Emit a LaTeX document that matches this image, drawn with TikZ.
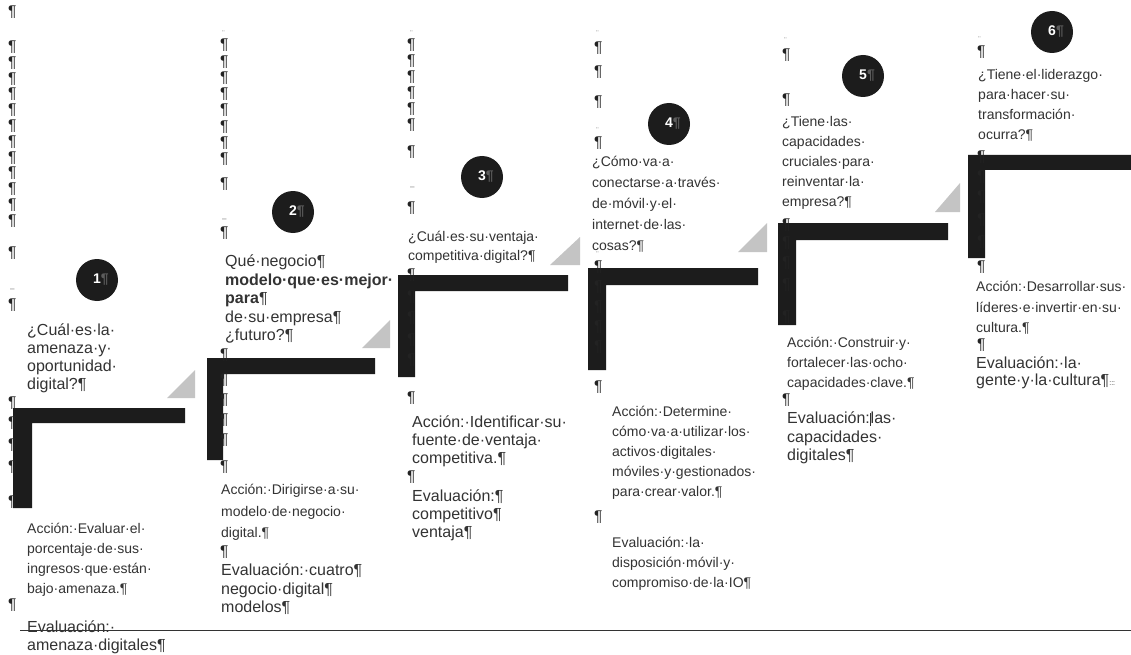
\documentclass[tikz,border=0pt]{standalone}
\usepackage{fontspec}
\setmainfont{Liberation Sans}
\definecolor{ink}{HTML}{333333}
\definecolor{pilcol}{HTML}{222222}
\definecolor{barcol}{HTML}{1C1C1C}
\definecolor{tricol}{HTML}{C4C4C4}
\begin{document}
\begin{tikzpicture}[x=1pt,y=-1pt,
  txt/.style={anchor=north west, inner sep=0pt, align=left, text=ink},
  small/.style={txt, font=\fontsize{14}{#1}\selectfont},
  small/.default=20,
  large/.style={txt, font=\fontsize{16}{#1}\selectfont},
  large/.default=18,
  pil/.style={anchor=west, inner sep=0pt, text=pilcol, font=\fontsize{15.5}{15.5}\selectfont},
  fmark/.style={anchor=west, inner sep=0pt, text=ink!70, font=\fontsize{8}{8}\selectfont},
  badge/.style={circle, fill=barcol, minimum size=42pt, inner sep=0pt},
  badgetxt/.style={anchor=west, inner sep=0pt, font=\fontsize{14}{14}\selectfont\bfseries, text=white}]

% page
\fill[white] (0,0) rectangle (1131,655);
\useasboundingbox (0,0) rectangle (1131,655);

% L-shaped steps
\foreach \xa/\ya/\xb/\xc/\yb/\yc in {
  13/408/185/32/423/508,
  207/358/375/223/374/460,
  398/275/568/415/291/377,
  588/268/758/606/285/370,
  778/223/948/796/240/325,
  968/155/1131/985/170/258}
  \fill[barcol] (\xa,\ya) -- (\xb,\ya) -- (\xb,\yb) -- (\xc,\yb) -- (\xc,\yc) -- (\xa,\yc) -- cycle;

% grey corner triangles
\foreach \xa/\ya/\xb/\yb in {
  167/398/195/370,
  362/348/390/320,
  550/265/580/237,
  738/252/767/223,
  935/212/960/183}
  \fill[tricol] (\xa,\ya) -- (\xb,\ya) -- (\xb,\yb) -- cycle;

% numbered badges
\foreach \cx/\cy/\n in {97/280/1, 293/212/2, 482/177/3, 669/124/4, 863/76/5, 1052/32/6} {
  \node[badge] (b\n) at (\cx,\cy) {};
  \node[badgetxt] (bn\n) at ([xshift=-4pt]b\n.center) {\n\textcolor{ink!80}{¶}};
}

% paragraph marks
\foreach \y [count=\i] in {12,47,63,79,94,110,126,142,158,173,189,205,221,253,305,403,423,445,467,502,605}
  \node[pil] (pa\i) at (8,\y) {¶};
\foreach \y [count=\i] in {45,62,78,94,110,127,143,159,184,233,355,380,400,420,440,467,552}
  \node[pil] (pb\i) at (220,\y) {¶};
\foreach \y [count=\i] in {45,61,77,93,109,125,152,208,275,297,318,340,360,398,477}
  \node[pil] (pc\i) at (407,\y) {¶};
\foreach \y [count=\i] in {48,72,102,143,267,287,307,327,347,387,517}
  \node[pil] (pd\i) at (594,\y) {¶};
\foreach \y [count=\i] in {55,100,225,243,263,285,317,400}
  \node[pil] (pe\i) at (782,\y) {¶};
\foreach \y [count=\i] in {52,157,177,197,220,242,267,345}
  \node[pil] (pf\i) at (977,\y) {¶};

% small formatting marks
\foreach \x/\y/\m [count=\i] in {10/290/–, 222/220/–, 410/188/–, 222/34/¨, 410/34/¨, 596/34/¨, 596/131/¨, 784/41/¨, 978/40/¨, 596/255/¨}
  \node[fmark] (fm\i) at (\x,\y) {\m};

% step 1
\node[large=17.7] (q1) at (27,324) {¿Cuál·es·la·\\amenaza·y·\\oportunidad·\\digital?¶};
\node[small] (a1) at (27,523) {Acción:·Evaluar·el·\\porcentaje·de·sus·\\ingresos·que·están·\\bajo·amenaza.¶};
\node[large] (e1) at (27,621) {Evaluación:·\\amenaza·digitales¶};

% step 2
\node[large=18.5] (q2) at (225,255) {Qué·negocio¶\\\textbf{modelo·que·es·mejor·}\\\textbf{para}¶\\de·su·empresa¶\\¿futuro?¶};
\node[small=21.5] (a2) at (221,484) {Acción:·Dirigirse·a·su·\\modelo·de·negocio·\\digital.¶};
\node[large=18.5] (e2) at (221,564) {Evaluación:·cuatro¶\\negocio·digital¶\\modelos¶};

% step 3
\node[small=19] (q3) at (408,231) {¿Cuál·es·su·ventaja·\\competitiva·digital?¶};
\node[large] (a3) at (412,416) {Acción:·Identificar·su·\\fuente·de·ventaja·\\competitiva.¶};
\node[large] (e3) at (412,490) {Evaluación:¶\\competitivo¶\\ventaja¶};

% step 4
\node[small=21] (q4) at (592,156) {¿Cómo·va·a·\\conectarse·a·través·\\de·móvil·y·el·\\internet·de·las·\\cosas?¶};
\node[small] (a4) at (612,406) {Acción:·Determine·\\cómo·va·a·utilizar·los·\\activos·digitales·\\móviles·y·gestionados·\\para·crear·valor.¶};
\node[small] (e4) at (612,537) {Evaluación:·la·\\disposición·móvil·y·\\compromiso·de·la·IO¶};

% step 5
\node[small] (q5) at (782,116) {¿Tiene·las·\\capacidades·\\cruciales·para·\\reinventar·la·\\empresa?¶};
\node[small] (a5) at (787,337) {Acción:·Construir·y·\\fortalecer·las·ocho·\\capacidades·clave.¶};
\node[large=18.5] (e5) at (787,412) {Evaluación:\rule[-2pt]{0.8pt}{13pt}las·\\capacidades·\\digitales¶};

% step 6
\node[small] (q6) at (978,69) {¿Tiene·el·liderazgo·\\para·hacer·su·\\transformación·\\ocurra?¶};
\node[small=20.5] (a6) at (976,281) {Acción:·Desarrollar·sus·\\líderes·e·invertir·en·su·\\cultura.¶};
\node[large=17] (e6) at (976,357) {Evaluación:·la·\\gente·y·la·cultura¶{\fontsize{7}{7}\selectfont :::}};

% page rule
\coordinate (rl) at (20,630);
\coordinate (rr) at (1131,630);
\draw[ink, line width=1pt] (rl) -- (rr);
\end{tikzpicture}
\end{document}
